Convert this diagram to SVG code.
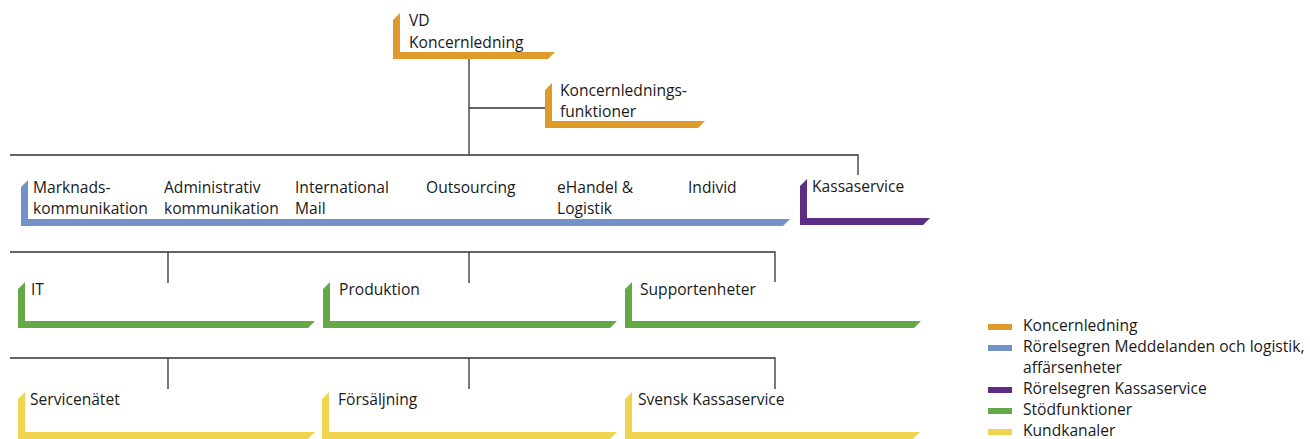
<svg xmlns="http://www.w3.org/2000/svg" width="1310" height="439" viewBox="0 0 1310 439">
<style>
text{font-family:"Open Sans","Noto Sans","Liberation Sans",sans-serif;font-size:15.6px;fill:#1a1a1a}
.ln{stroke:#333;stroke-width:1.3;fill:none}
.or{fill:#DF9B2A}.bl{fill:#7392C8}.pu{fill:#5C2D83}.gr{fill:#65A845}.ye{fill:#EFD54F}
</style>
<rect width="1310" height="439" fill="#fff"/>
<g id="connectors">
<path class="ln" d="M469 59V155M469 108H545M10 155H858V175"/>
<path class="ln" d="M10 252H775V282M168 252V283M469 252V283"/>
<path class="ln" d="M10 358H775V389M168 358V389M469 358V389"/>
</g>
<g id="vd">
<polygon class="or" points="393,20 400,13 400,52 555,52 548,59 393,59"/>
<text x="409" y="26">VD</text>
<text x="409" y="48">Koncernledning</text>
</g>
<g id="koncernledningsfunktioner">
<polygon class="or" points="545,90 552,83 552,121 705,121 698,128 545,128"/>
<text x="560" y="96">Koncernlednings-</text>
<text x="560" y="117">funktioner</text>
</g>
<g id="affarsenheter">
<polygon class="bl" points="21,187 28,180 28,219 790,219 783,226 21,226"/>
<g id="marknadskommunikation"><text x="33" y="193">Marknads-</text><text x="33" y="214">kommunikation</text></g>
<g id="administrativ"><text x="164" y="193">Administrativ</text><text x="164" y="214">kommunikation</text></g>
<g id="international"><text x="295" y="193">International</text><text x="295" y="214">Mail</text></g>
<g id="outsourcing"><text x="426" y="193">Outsourcing</text></g>
<g id="ehandel"><text x="557" y="193">eHandel &amp;</text><text x="557" y="214">Logistik</text></g>
<g id="individ"><text x="688" y="193">Individ</text></g>
</g>
<g id="kassaservice">
<polygon class="pu" points="800,186 807,179 807,218 930,218 923,225 800,225"/>
<text x="812" y="192">Kassaservice</text>
</g>
<g id="it">
<polygon class="gr" points="18,289 25,282 25,321 315,321 308,328 18,328"/>
<text x="31" y="295">IT</text>
</g>
<g id="produktion">
<polygon class="gr" points="323,289 330,282 330,321 617,321 610,328 323,328"/>
<text x="339" y="295">Produktion</text>
</g>
<g id="supportenheter">
<polygon class="gr" points="625,289 632,282 632,321 921,321 914,328 625,328"/>
<text x="640" y="295">Supportenheter</text>
</g>
<g id="servicenatet">
<polygon class="ye" points="18,399 25,392 25,432 315,432 308,439 18,439"/>
<text x="30" y="405">Servicenätet</text>
</g>
<g id="forsaljning">
<polygon class="ye" points="322,399 329,392 329,432 617,432 610,439 322,439"/>
<text x="338" y="405">Försäljning</text>
</g>
<g id="svenskkassaservice">
<polygon class="ye" points="625,399 632,392 632,432 920,432 913,439 625,439"/>
<text x="638" y="405">Svensk Kassaservice</text>
</g>
<g id="legend">
<rect class="or" x="988" y="324" width="24" height="6"/><text x="1023" y="331">Koncernledning</text>
<rect class="bl" x="988" y="345" width="24" height="6"/><text x="1023" y="352">Rörelsegren Meddelanden och logistik,</text>
<text x="1023" y="373">affärsenheter</text>
<rect class="pu" x="988" y="387" width="24" height="6"/><text x="1023" y="394">Rörelsegren Kassaservice</text>
<rect class="gr" x="988" y="408" width="24" height="6"/><text x="1023" y="415">Stödfunktioner</text>
<rect class="ye" x="988" y="429" width="24" height="6"/><text x="1023" y="436">Kundkanaler</text>
</g>
</svg>
